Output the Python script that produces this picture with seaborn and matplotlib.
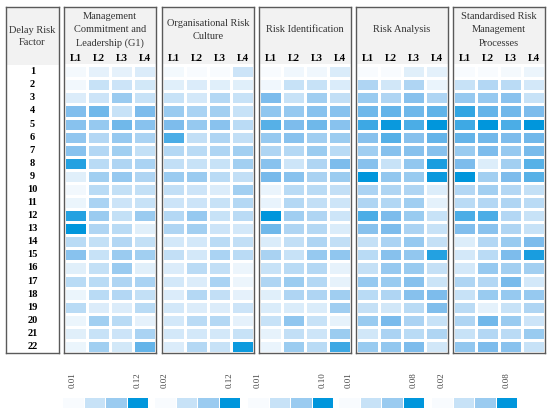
import numpy as np
import pandas as pd
import seaborn as sns
import matplotlib.pyplot as plt
from matplotlib.colors import LinearSegmentedColormap
from matplotlib.patches import Rectangle

# Delay risk factors and maturity levels
factors = [str(i) for i in range(1, 23)]
levels = ['L1', 'L2', 'L3', 'L4']

groups = ['Management\nCommitment and\nLeadership (G1)',
          'Organisational Risk\nCulture',
          'Risk Identification',
          'Risk Analysis',
          'Standardised Risk\nManagement\nProcesses']

# colour scale limits of each group (from the legend)
scale_min = [0.01, 0.02, 0.01, 0.01, 0.02]
scale_max = [0.12, 0.12, 0.10, 0.08, 0.08]
scale_min_labels = ['0.01', '0.02', '0.01', '0.01', '0.02']
scale_max_labels = ['0.12', '0.12', '0.10', '0.08', '0.08']
legend_fracs = [0.0, 0.2, 0.38, 1.0]

# values, rows = factor 1..22, cols = L1..L4
g1_values = [
    [0.012, 0.019, 0.019, 0.023], [0.013, 0.032, 0.030, 0.027],
    [0.023, 0.030, 0.052, 0.032], [0.063, 0.071, 0.032, 0.065],
    [0.060, 0.054, 0.071, 0.060], [0.056, 0.041, 0.054, 0.045],
    [0.060, 0.041, 0.049, 0.034], [0.104, 0.038, 0.043, 0.045],
    [0.021, 0.049, 0.054, 0.043], [0.013, 0.038, 0.034, 0.034],
    [0.016, 0.045, 0.030, 0.032], [0.104, 0.052, 0.034, 0.052],
    [0.120, 0.043, 0.038, 0.021], [0.038, 0.034, 0.041, 0.034],
    [0.060, 0.032, 0.052, 0.049], [0.021, 0.034, 0.052, 0.021],
    [0.038, 0.038, 0.043, 0.045], [0.016, 0.038, 0.041, 0.034],
    [0.038, 0.023, 0.023, 0.038], [0.016, 0.049, 0.038, 0.019],
    [0.021, 0.032, 0.030, 0.045], [0.016, 0.049, 0.027, 0.076]]

g2_values = [
    [0.022, 0.020, 0.020, 0.038], [0.030, 0.032, 0.030, 0.030],
    [0.040, 0.035, 0.048, 0.040], [0.058, 0.052, 0.055, 0.040],
    [0.070, 0.060, 0.065, 0.045], [0.090, 0.042, 0.050, 0.042],
    [0.048, 0.045, 0.050, 0.055], [0.042, 0.040, 0.040, 0.055],
    [0.058, 0.058, 0.045, 0.042], [0.042, 0.038, 0.032, 0.055],
    [0.038, 0.038, 0.040, 0.048], [0.048, 0.060, 0.040, 0.045],
    [0.050, 0.055, 0.038, 0.035], [0.035, 0.035, 0.045, 0.042],
    [0.042, 0.035, 0.052, 0.045], [0.032, 0.045, 0.042, 0.025],
    [0.035, 0.032, 0.052, 0.025], [0.032, 0.048, 0.042, 0.028],
    [0.035, 0.032, 0.032, 0.038], [0.035, 0.045, 0.048, 0.028],
    [0.035, 0.035, 0.035, 0.040], [0.032, 0.048, 0.040, 0.115]]

g3_values = [
    [0.010, 0.013, 0.013, 0.021], [0.013, 0.028, 0.028, 0.021],
    [0.055, 0.028, 0.042, 0.030], [0.048, 0.046, 0.051, 0.051],
    [0.069, 0.055, 0.060, 0.051], [0.046, 0.051, 0.042, 0.044],
    [0.037, 0.035, 0.044, 0.033], [0.051, 0.026, 0.037, 0.055],
    [0.057, 0.051, 0.039, 0.044], [0.015, 0.033, 0.033, 0.030],
    [0.016, 0.035, 0.030, 0.026], [0.100, 0.042, 0.037, 0.026],
    [0.060, 0.037, 0.035, 0.021], [0.021, 0.030, 0.037, 0.030],
    [0.039, 0.028, 0.046, 0.048], [0.028, 0.033, 0.035, 0.017],
    [0.037, 0.044, 0.035, 0.017], [0.019, 0.037, 0.037, 0.042],
    [0.021, 0.021, 0.021, 0.042], [0.028, 0.048, 0.028, 0.017],
    [0.017, 0.030, 0.026, 0.044], [0.015, 0.044, 0.033, 0.078]]

g4_values = [
    [0.010, 0.010, 0.017, 0.016], [0.031, 0.021, 0.031, 0.014],
    [0.037, 0.031, 0.042, 0.031], [0.049, 0.052, 0.049, 0.053],
    [0.063, 0.077, 0.059, 0.080], [0.042, 0.056, 0.042, 0.052],
    [0.035, 0.042, 0.042, 0.042], [0.042, 0.024, 0.039, 0.073],
    [0.080, 0.039, 0.037, 0.077], [0.032, 0.031, 0.031, 0.018],
    [0.031, 0.030, 0.035, 0.016], [0.059, 0.045, 0.037, 0.024],
    [0.042, 0.045, 0.032, 0.024], [0.025, 0.032, 0.038, 0.025],
    [0.028, 0.042, 0.039, 0.070], [0.025, 0.038, 0.037, 0.025],
    [0.038, 0.037, 0.042, 0.023], [0.028, 0.031, 0.042, 0.045],
    [0.025, 0.021, 0.028, 0.044], [0.037, 0.046, 0.032, 0.024],
    [0.021, 0.032, 0.028, 0.031], [0.037, 0.039, 0.045, 0.021]]

g5_values = [
    [0.020, 0.020, 0.021, 0.023], [0.032, 0.037, 0.035, 0.029],
    [0.044, 0.044, 0.047, 0.032], [0.068, 0.056, 0.053, 0.050],
    [0.065, 0.080, 0.062, 0.080], [0.056, 0.053, 0.050, 0.053],
    [0.043, 0.050, 0.044, 0.051], [0.050, 0.027, 0.041, 0.059],
    [0.080, 0.041, 0.050, 0.059], [0.037, 0.041, 0.037, 0.033],
    [0.035, 0.037, 0.038, 0.035], [0.062, 0.062, 0.037, 0.032],
    [0.049, 0.047, 0.038, 0.032], [0.027, 0.037, 0.043, 0.050],
    [0.029, 0.035, 0.050, 0.074], [0.029, 0.044, 0.041, 0.041],
    [0.038, 0.037, 0.051, 0.029], [0.032, 0.043, 0.044, 0.044],
    [0.035, 0.025, 0.032, 0.038], [0.038, 0.053, 0.043, 0.031],
    [0.032, 0.037, 0.035, 0.043], [0.045, 0.050, 0.047, 0.032]]

all_values = [g1_values, g2_values, g3_values, g4_values, g5_values]

sns.set_theme(style="white")
plt.rcParams['font.family'] = ['Liberation Serif', 'DejaVu Serif']

cmap = LinearSegmentedColormap.from_list(
    "blues", [(0.0, "#f8fbfe"), (0.5, "#7dbcec"), (1.0, "#0096dc")])
header_bg = "#f2f2f2"
border = "#5a5a5a"

W, H = 550, 412
fig = plt.figure(figsize=(5.5, 4.12), dpi=100)

top, bottom = 7, 353
header_rows = 4.45
panel_x = [64, 162, 259, 356, 453]
panel_w = 92
cbar_x = [62, 154, 247, 338, 431]
cbar_w = 86


def px_axes(x0, y0, w, h):
    return fig.add_axes([x0 / W, 1 - (y0 + h) / H, w / W, h / H])


def header_and_border(ax, ncols):
    ax.set_ylim(len(factors), -header_rows)
    ax.add_patch(Rectangle((0, -header_rows), ncols, header_rows,
                           facecolor=header_bg, edgecolor='none', zorder=0))
    for s in ax.spines.values():
        s.set_visible(True)
        s.set_color(border)
        s.set_linewidth(1.0)
    ax.set_xticks([])
    ax.set_yticks([])


# row label panel
ax0 = px_axes(6, top, 53, bottom - top)
ax0.set_xlim(0, 1)
header_and_border(ax0, 1)
ax0.text(0.5, -2.2, "Delay Risk\nFactor", ha='center', va='center',
         fontsize=7.5, color='#333333', linespacing=1.5)
for i, f in enumerate(factors):
    ax0.text(0.5, i + 0.5, f, ha='center', va='center',
             fontsize=7.5, fontweight='bold', color='black')

# one heatmap per group
for g, name in enumerate(groups):
    ax = px_axes(panel_x[g], top, panel_w, bottom - top)
    df = pd.DataFrame(all_values[g], index=factors, columns=levels)
    sns.heatmap(df, ax=ax, cmap=cmap, vmin=scale_min[g], vmax=scale_max[g],
                cbar=False, linewidths=0.8, linecolor='white',
                xticklabels=False, yticklabels=False)
    header_and_border(ax, len(levels))
    ax.text(len(levels) / 2, -2.7, name, ha='center', va='center',
            fontsize=7.5, color='#333333', linespacing=1.6)
    for j, lv in enumerate(levels):
        ax.text(j + 0.5, -0.5, lv, ha='center', va='center',
                fontsize=7.5, fontweight='bold', color='black')

    # discrete legend under each group
    cax = px_axes(cbar_x[g], 397, cbar_w, 11)
    steps = [scale_min[g] + f * (scale_max[g] - scale_min[g]) for f in legend_fracs]
    sns.heatmap(pd.DataFrame([steps]), ax=cax, cmap=cmap,
                vmin=scale_min[g], vmax=scale_max[g], cbar=False,
                linewidths=0.6, linecolor='white',
                xticklabels=False, yticklabels=False)
    cax.text(0.5, -0.8, scale_min_labels[g], rotation=90, ha='center',
             va='bottom', fontsize=6.5, color='#444444')
    cax.text(len(steps) - 0.5, -0.8, scale_max_labels[g], rotation=90,
             ha='center', va='bottom', fontsize=6.5, color='#444444')
    cax.set_ylim(1, 0)
    for t in cax.texts:
        t.set_clip_on(False)

fig.savefig("out.png", dpi=100)
